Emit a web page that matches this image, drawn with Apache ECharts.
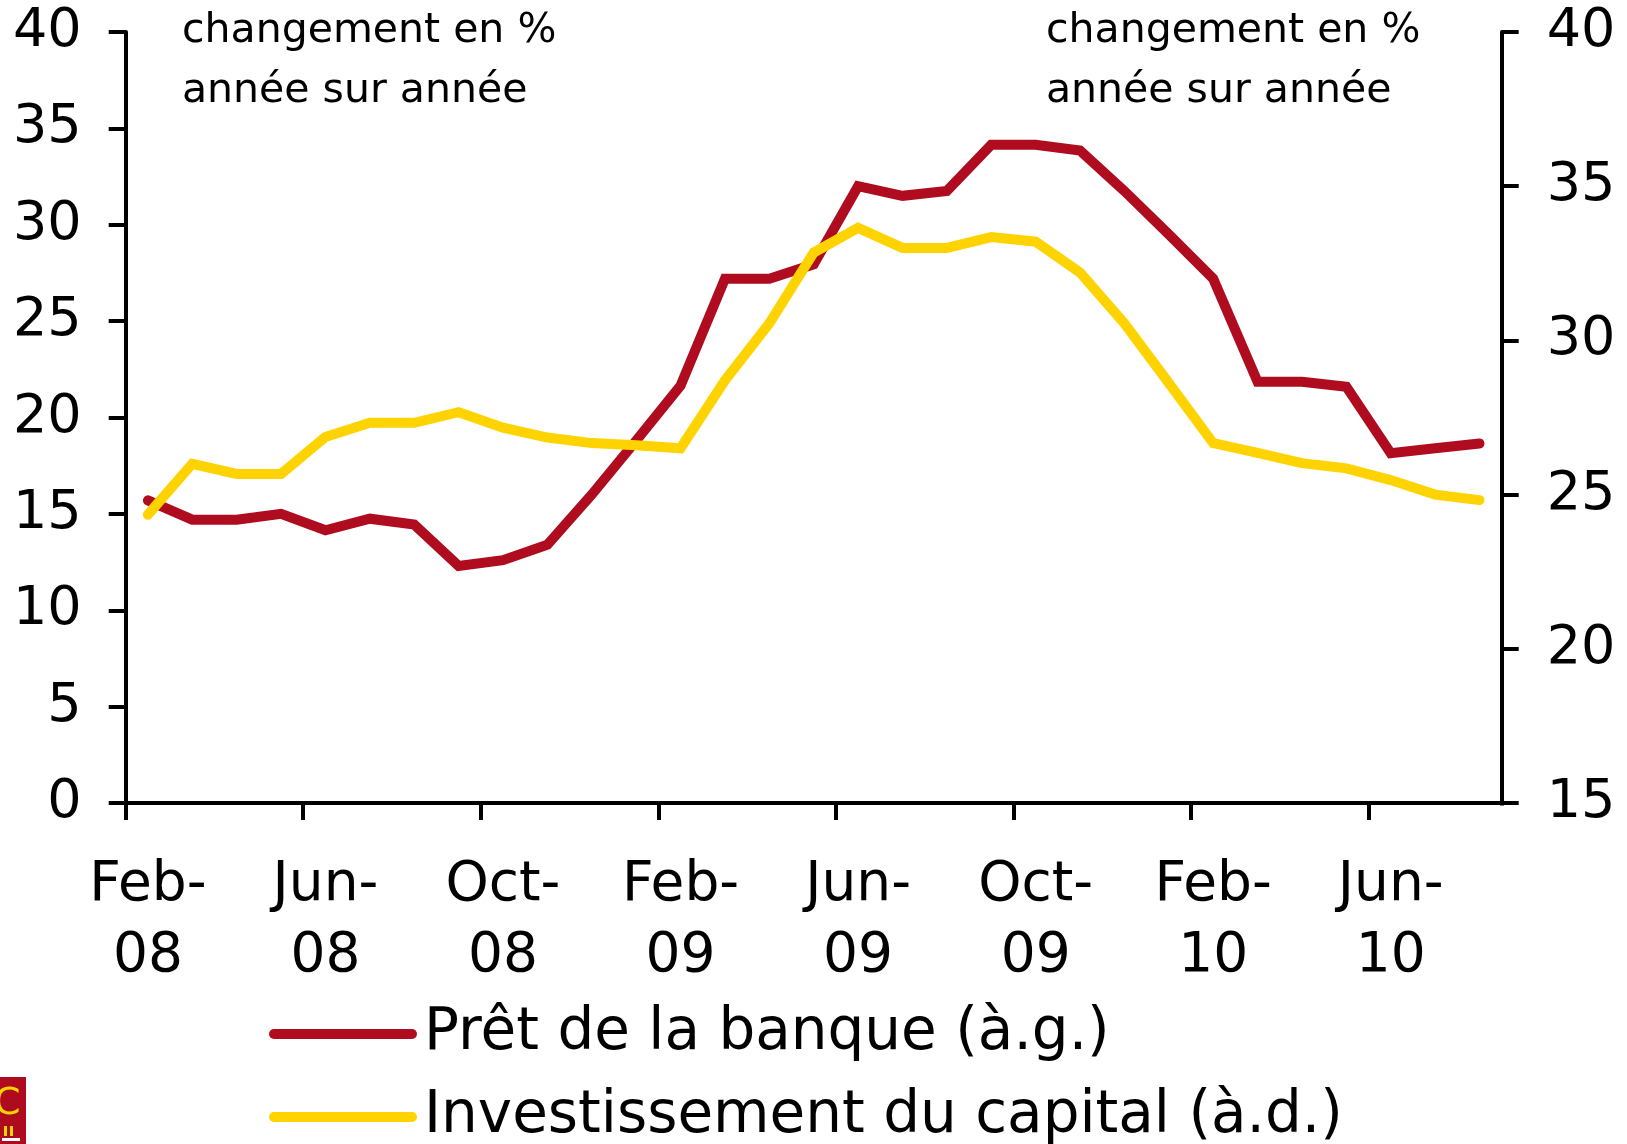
<!DOCTYPE html>
<html>
<head>
<meta charset="utf-8">
<script src="https://cdn.jsdelivr.net/npm/echarts@6/dist/echarts.min.js"></script>
<style>
html,body{margin:0;padding:0;background:#fff;}
#chart{width:1627px;height:1144px;}
</style>
</head>
<body>
<div id="chart"></div>
<script>
const categories = ['Feb-08','Mar-08','Apr-08','May-08','Jun-08','Jul-08','Aug-08','Sep-08','Oct-08','Nov-08','Dec-08',
  'Jan-09','Feb-09','Mar-09','Apr-09','May-09','Jun-09','Jul-09','Aug-09','Sep-09','Oct-09','Nov-09','Dec-09',
  'Jan-10','Feb-10','Mar-10','Apr-10','May-10','Jun-10','Jul-10','Aug-10'];
const bankLoans = [15.7, 14.7, 14.7, 15.0, 14.15, 14.75, 14.45, 12.3, 12.6, 13.4, 16.0,
  18.8, 21.65, 27.2, 27.2, 27.95, 32.0, 31.5, 31.75, 34.15, 34.15, 33.85, 31.75,
  29.5, 27.2, 21.85, 21.85, 21.6, 18.15, 18.4, 18.65];
const capitalInvestment = [24.35, 26.0, 25.67, 25.67, 26.87, 27.33, 27.33, 27.67, 27.17, 26.85, 26.67,
  26.6, 26.5, 28.7, 30.55, 32.85, 33.65, 33.0, 33.0, 33.35, 33.2, 32.2, 30.55,
  28.62, 26.67, 26.35, 26.02, 25.85, 25.47, 25.0, 24.82];
const seriesNames = ['Prêt de la banque (à.g.)', 'Investissement du capital (à.d.)'];
const leftTicks = {min: 0, max: 40, interval: 5};
const rightTicks = {min: 15, max: 40, interval: 5};
const unitNote = 'changement en %\nannée sur année';

const FONT = '"DejaVu Sans", sans-serif';
const RED = '#B00C1F';
const YELLOW = '#FFD300';

const chart = echarts.init(document.getElementById('chart'), null, {renderer: 'canvas'});
const axisCommon = {
  axisLine: {show: true, lineStyle: {color: '#000', width: 4}},
  axisTick: {show: true, length: 17, lineStyle: {color: '#000', width: 4}},
  splitLine: {show: false}
};
const legendCommon = {
  orient: 'horizontal',
  left: 264,
  itemWidth: 148,
  itemHeight: 10,
  icon: 'path://M5,0 L143,0 A5,5 0 0 1 143,10 L5,10 A5,5 0 0 1 5,0 Z',
  textStyle: {color: '#000', fontFamily: FONT, fontSize: 58, lineHeight: 60, padding: [0, 0, 0, 2]},
  itemStyle: {borderWidth: 0}
};
const option = {
  animation: false,
  backgroundColor: '#fff',
  grid: {left: 125.7, right: 125.3, top: 32, bottom: 341, containLabel: false},
  xAxis: {
    type: 'category',
    data: categories,
    boundaryGap: true,
    axisLine: {show: true, lineStyle: {color: '#000', width: 4}},
    axisTick: {show: true, interval: 3, alignWithLabel: false, length: 17, lineStyle: {color: '#000', width: 4}},
    axisLabel: {
      interval: 3, color: '#000', fontFamily: FONT, fontSize: 55, lineHeight: 71, margin: 47,
      formatter: function (v) { return v.replace('-', '-\n'); }
    },
    splitLine: {show: false}
  },
  yAxis: [
    Object.assign({type: 'value', position: 'left', min: leftTicks.min, max: leftTicks.max, interval: leftTicks.interval,
      axisLabel: {color: '#000', fontFamily: FONT, fontSize: 54, margin: 44}}, axisCommon),
    Object.assign({type: 'value', position: 'right', min: rightTicks.min, max: rightTicks.max, interval: rightTicks.interval,
      axisLabel: {color: '#000', fontFamily: FONT, fontSize: 54, margin: 45}}, axisCommon)
  ],
  legend: [
    Object.assign({top: 999, data: [seriesNames[0]]}, legendCommon),
    Object.assign({top: 1082, data: [seriesNames[1]]}, legendCommon)
  ],
  graphic: [
    {type: 'text', left: 182, top: 1, style: {text: unitNote, fontSize: 41, fontFamily: FONT, lineHeight: 60, fill: '#000'}},
    {type: 'text', left: 1046, top: 1, style: {text: unitNote, fontSize: 41, fontFamily: FONT, lineHeight: 60, fill: '#000'}},
    {type: 'rect', z: 100, shape: {x: 1497, y: 805.5, width: 10, height: 20}, style: {fill: '#fff'}},
    {type: 'group', x: 0, y: 1077, children: [
      {type: 'rect', shape: {x: 0, y: 0, width: 26, height: 67}, style: {fill: '#AE0B1F'}},
      {type: 'text', x: -6, y: 8, style: {text: 'C', fontSize: 38, fontFamily: FONT, fill: '#FFD200'}},
      {type: 'rect', shape: {x: 4, y: 49, width: 3, height: 10}, style: {fill: '#FFD200'}},
      {type: 'rect', shape: {x: 10, y: 49, width: 3, height: 10}, style: {fill: '#FFD200'}},
      {type: 'rect', shape: {x: 2, y: 61, width: 18, height: 3}, style: {fill: '#fff'}}
    ]}
  ],
  series: [
    {
      name: seriesNames[0], type: 'line', yAxisIndex: 0, data: bankLoans,
      symbol: 'none', color: RED,
      itemStyle: {color: RED},
      lineStyle: {color: RED, width: 10, cap: 'round', join: 'miter'}
    },
    {
      name: seriesNames[1], type: 'line', yAxisIndex: 1, data: capitalInvestment,
      symbol: 'none', color: YELLOW,
      itemStyle: {color: YELLOW},
      lineStyle: {color: YELLOW, width: 10, cap: 'round', join: 'miter'}
    }
  ]
};
chart.setOption(option);
</script>
</body>
</html>
